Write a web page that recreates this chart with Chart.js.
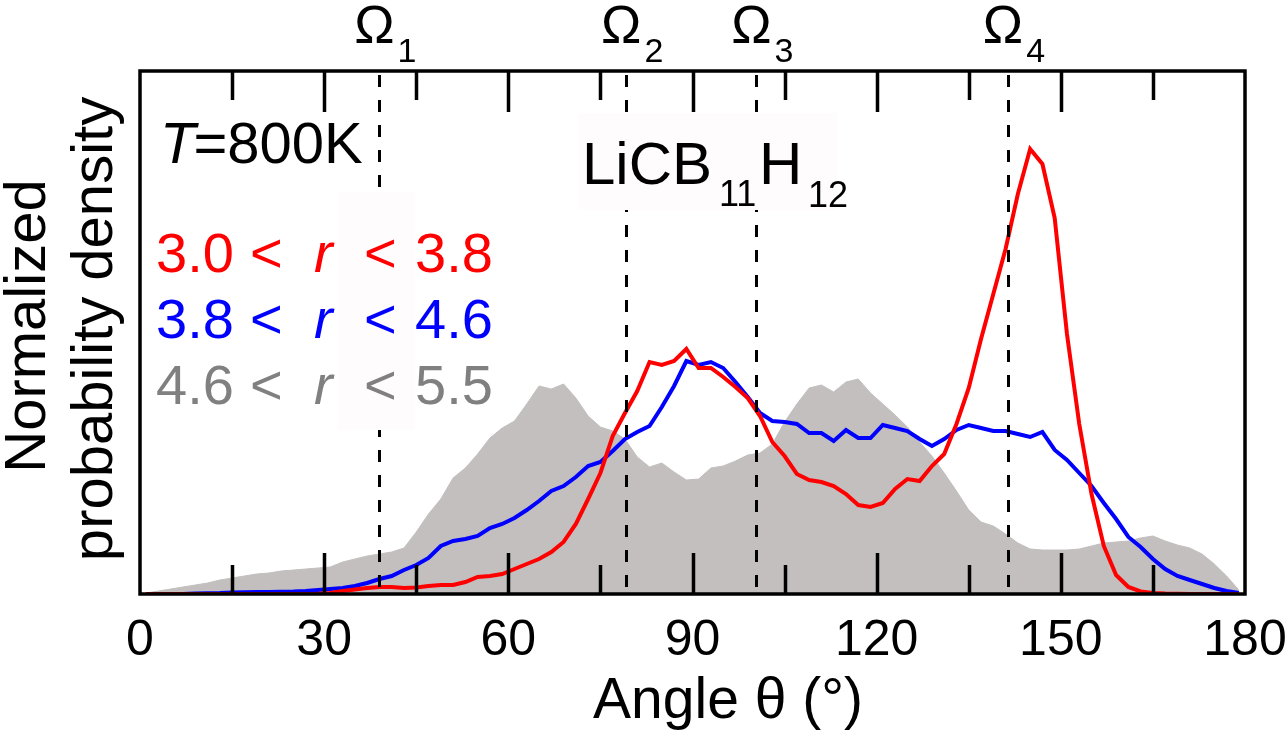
<!DOCTYPE html>
<html><head><meta charset="utf-8">
<script src="https://cdn.jsdelivr.net/npm/chart.js@4.4.1/dist/chart.umd.min.js"></script>
<style>html,body{margin:0;padding:0;background:#fff;}canvas{display:block;}</style>
</head><body>
<canvas id="c" width="1285" height="733"></canvas>
<script>
// Bin centres of the angle histogram (degrees)
const angles = [1,3,5,7,9,11,13,15,17,19,21,23,25,27,29,31,33,35,37,39,41,43,45,47,49,51,53,55,57,59,
  61,63,65,67,69,71,73,75,77,79,81,83,85,87,89,91,93,95,97,99,101,103,105,107,109,111,113,115,117,119,
  121,123,125,127,129,131,133,135,137,139,141,143,145,147,149,151,153,155,157,159,161,163,165,167,169,171,173,175,177,179];
// Normalized probability density (arbitrary units), 3.0 < r < 3.8
const redSeries = [0,0,0,0,0,0,0,0,0,0,0,0,0,0,0.3,1,3,4.5,6,7,7,6,6.5,8,9,9,12,17,18,20,
  25,30,35,42,52,70,95,121,158,181,203,232,229,233,245,226,226,217,207,196,178,152,138,120,114,112,108,100,89,87,
  91,105,115,113,128,140,170,206,255,300,345,400,445,430,376,260,170,100,48,19,7,2.5,1,0.5,0.3,0,0,0,0,0];
// 3.8 < r < 4.6
const blueSeries = [0,0,0,0,0.5,0.8,1,1.5,1.7,2,2,2.3,2.5,3,4,5,6,8,11,15,18,24,29,36,48,53,55,58,66,70,
  76,84,93,103,108,117,128,132,143,155,162,168,187,208,233,229,232,226,212,197,181,173,172,170,161,161,153,164,156,156,
  169,166,163,155,148,155,164,169,166,163,163,160,157,162,144,134,121,108,91,75,57,47,35,25,18,14,10,6,3,1];
// 4.6 < r < 5.5 (filled)
const greySeries = [1,3,5,7,9,11,14,16,18,20,21,23,24,25,26,27,32,35,38,40,42,46,62,80,95,116,126,140,156,166,
  173,190,208,205,210,196,178,167,163,155,137,127,131,122,114,115,126,128,133,139,141,150,172,190,206,209,202,212,215,201,
  190,179,167,152,138,121,103,84,72,68,60,51,45,44,44,44,45,48,51,52,53,56,58,53,49,46,40,30,18,4];
const xTicks = [0,30,60,90,120,150,180];
const minorTicks = [15,45,75,105,135,165];
const omegaAngles = [39.0,79.2,100.4,141.4];
const omegaSubs = ['1','2','3','4'];
const rangeLabels = [['3.0','3.8'],['3.8','4.6'],['4.6','5.5']];
const rangeColors = ['#ff0000','#0000ff','#808080'];

const FONT = '"Liberation Sans", Arial, Helvetica, sans-serif';
const f = (s, st) => (st ? st + ' ' : '') + s + 'px ' + FONT;

const overlay = {
  id: 'overlay',
  afterDatasetsDraw(chart) {
    const {ctx, chartArea: a, scales: {x}} = chart;
    ctx.save();
    // dashed Omega lines
    ctx.strokeStyle = '#000'; ctx.lineWidth = 3; ctx.setLineDash([12, 13]);
    omegaAngles.forEach(v => {
      const px = Math.round(x.getPixelForValue(v)) + 0.5;
      ctx.beginPath(); ctx.moveTo(px, a.top + 4); ctx.lineTo(px, a.bottom); ctx.stroke();
    });
    ctx.setLineDash([]);
    // label backgrounds
    ctx.fillStyle = '#fefcfd';
    ctx.fillRect(338, 192, 77, 238);
    ctx.fillRect(578, 113, 259, 97);
    // ticks (inward, top and bottom)
    ctx.lineWidth = 3.5; ctx.strokeStyle = '#000';
    const tk = (v, len) => {
      const px = Math.round(x.getPixelForValue(v)) + 0.5;
      ctx.beginPath();
      ctx.moveTo(px, a.bottom); ctx.lineTo(px, a.bottom - len);
      ctx.moveTo(px, a.top); ctx.lineTo(px, a.top + len);
      ctx.stroke();
    };
    xTicks.slice(1, -1).forEach(v => tk(v, 41));
    minorTicks.forEach(v => tk(v, 29));
    // frame
    ctx.lineWidth = 3.5;
    ctx.strokeRect(a.left, a.top, a.right - a.left, a.bottom - a.top);
    ctx.restore();
  },
  afterDraw(chart) {
    const {ctx, scales: {x}} = chart;
    ctx.save();
    ctx.fillStyle = '#000';
    ctx.textBaseline = 'alphabetic';
    // axis titles
    ctx.textAlign = 'center';
    ctx.font = f(57);
    ctx.fillText('Angle θ (°)', 728, 718);
    ctx.save(); ctx.translate(45, 326); ctx.rotate(-Math.PI / 2); ctx.font = f(58); ctx.fillText('Normalized', 0, 0); ctx.restore();
    ctx.save(); ctx.translate(112, 329); ctx.rotate(-Math.PI / 2); ctx.font = f(58); ctx.fillText('probability density', 0, 0); ctx.restore();
    ctx.textAlign = 'left';
    // T=800K
    ctx.font = f(58, 'italic');
    ctx.fillText('T', 160, 163);
    let w = ctx.measureText('T').width;
    ctx.font = f(58);
    ctx.fillText('=800K', 160 + w - 2, 163);
    // series range labels
    rangeLabels.forEach((p, i) => {
      const y = 272 + i * 66;
      ctx.fillStyle = rangeColors[i];
      ctx.font = f(56);
      ctx.fillText(p[0], 156, y);
      ctx.fillText('<', 250, y);
      ctx.fillText('<', 364, y);
      ctx.fillText(p[1], 415, y);
      ctx.font = f(56, 'italic');
      ctx.fillText('r', 314, y);
    });
    // compound label
    ctx.fillStyle = '#000';
    ctx.font = f(60);
    ctx.fillText('LiCB', 582, 184);
    ctx.fillText('H', 759, 184);
    ctx.font = f(36);
    ctx.fillText('11', 719, 206);
    ctx.fillText('12', 808, 207);
    // Omega labels
    omegaAngles.forEach((v, i) => {
      const px = x.getPixelForValue(v);
      ctx.font = f(54);
      const ow = ctx.measureText('Ω').width;
      ctx.fillText('Ω', px - ow / 2 - 5, 43);
      ctx.font = f(34);
      ctx.fillText(omegaSubs[i], px + ow / 2 - 2, 62);
    });
    ctx.restore();
  }
};

new Chart(document.getElementById('c'), {
  type: 'line',
  data: {
    datasets: [
      {label: '3.0 < r < 3.8', data: angles.map((a, i) => ({x: a, y: redSeries[i]})),
       borderColor: '#ff0000', borderWidth: 4, pointRadius: 0, fill: false, tension: 0},
      {label: '3.8 < r < 4.6', data: angles.map((a, i) => ({x: a, y: blueSeries[i]})),
       borderColor: '#0000ff', borderWidth: 4, pointRadius: 0, fill: false, tension: 0},
      {label: '4.6 < r < 5.5', data: angles.map((a, i) => ({x: a, y: greySeries[i]})),
       borderColor: 'rgb(195,191,191)', backgroundColor: 'rgb(195,191,191)', borderWidth: 1,
       pointRadius: 0, fill: 'origin', tension: 0}
    ]
  },
  options: {
    responsive: false, animation: false, devicePixelRatio: 1,
    layout: {padding: {top: 71, right: 40, left: 140, bottom: 0}},
    plugins: {legend: {display: false}, tooltip: {enabled: false}},
    scales: {
      x: {
        type: 'linear', min: 0, max: 180,
        afterBuildTicks: s => { s.ticks = xTicks.map(v => ({value: v})); },
        afterFit: s => { s.height = 139; s.paddingLeft = 0; s.paddingRight = 0; },
        grid: {display: false, drawTicks: false}, border: {display: false},
        ticks: {font: {family: FONT, size: 50}, color: '#000', padding: 17, maxRotation: 0, autoSkip: false}
      },
      y: {display: false, min: 0, max: 523}
    }
  },
  plugins: [overlay]
});
</script>
</body></html>
